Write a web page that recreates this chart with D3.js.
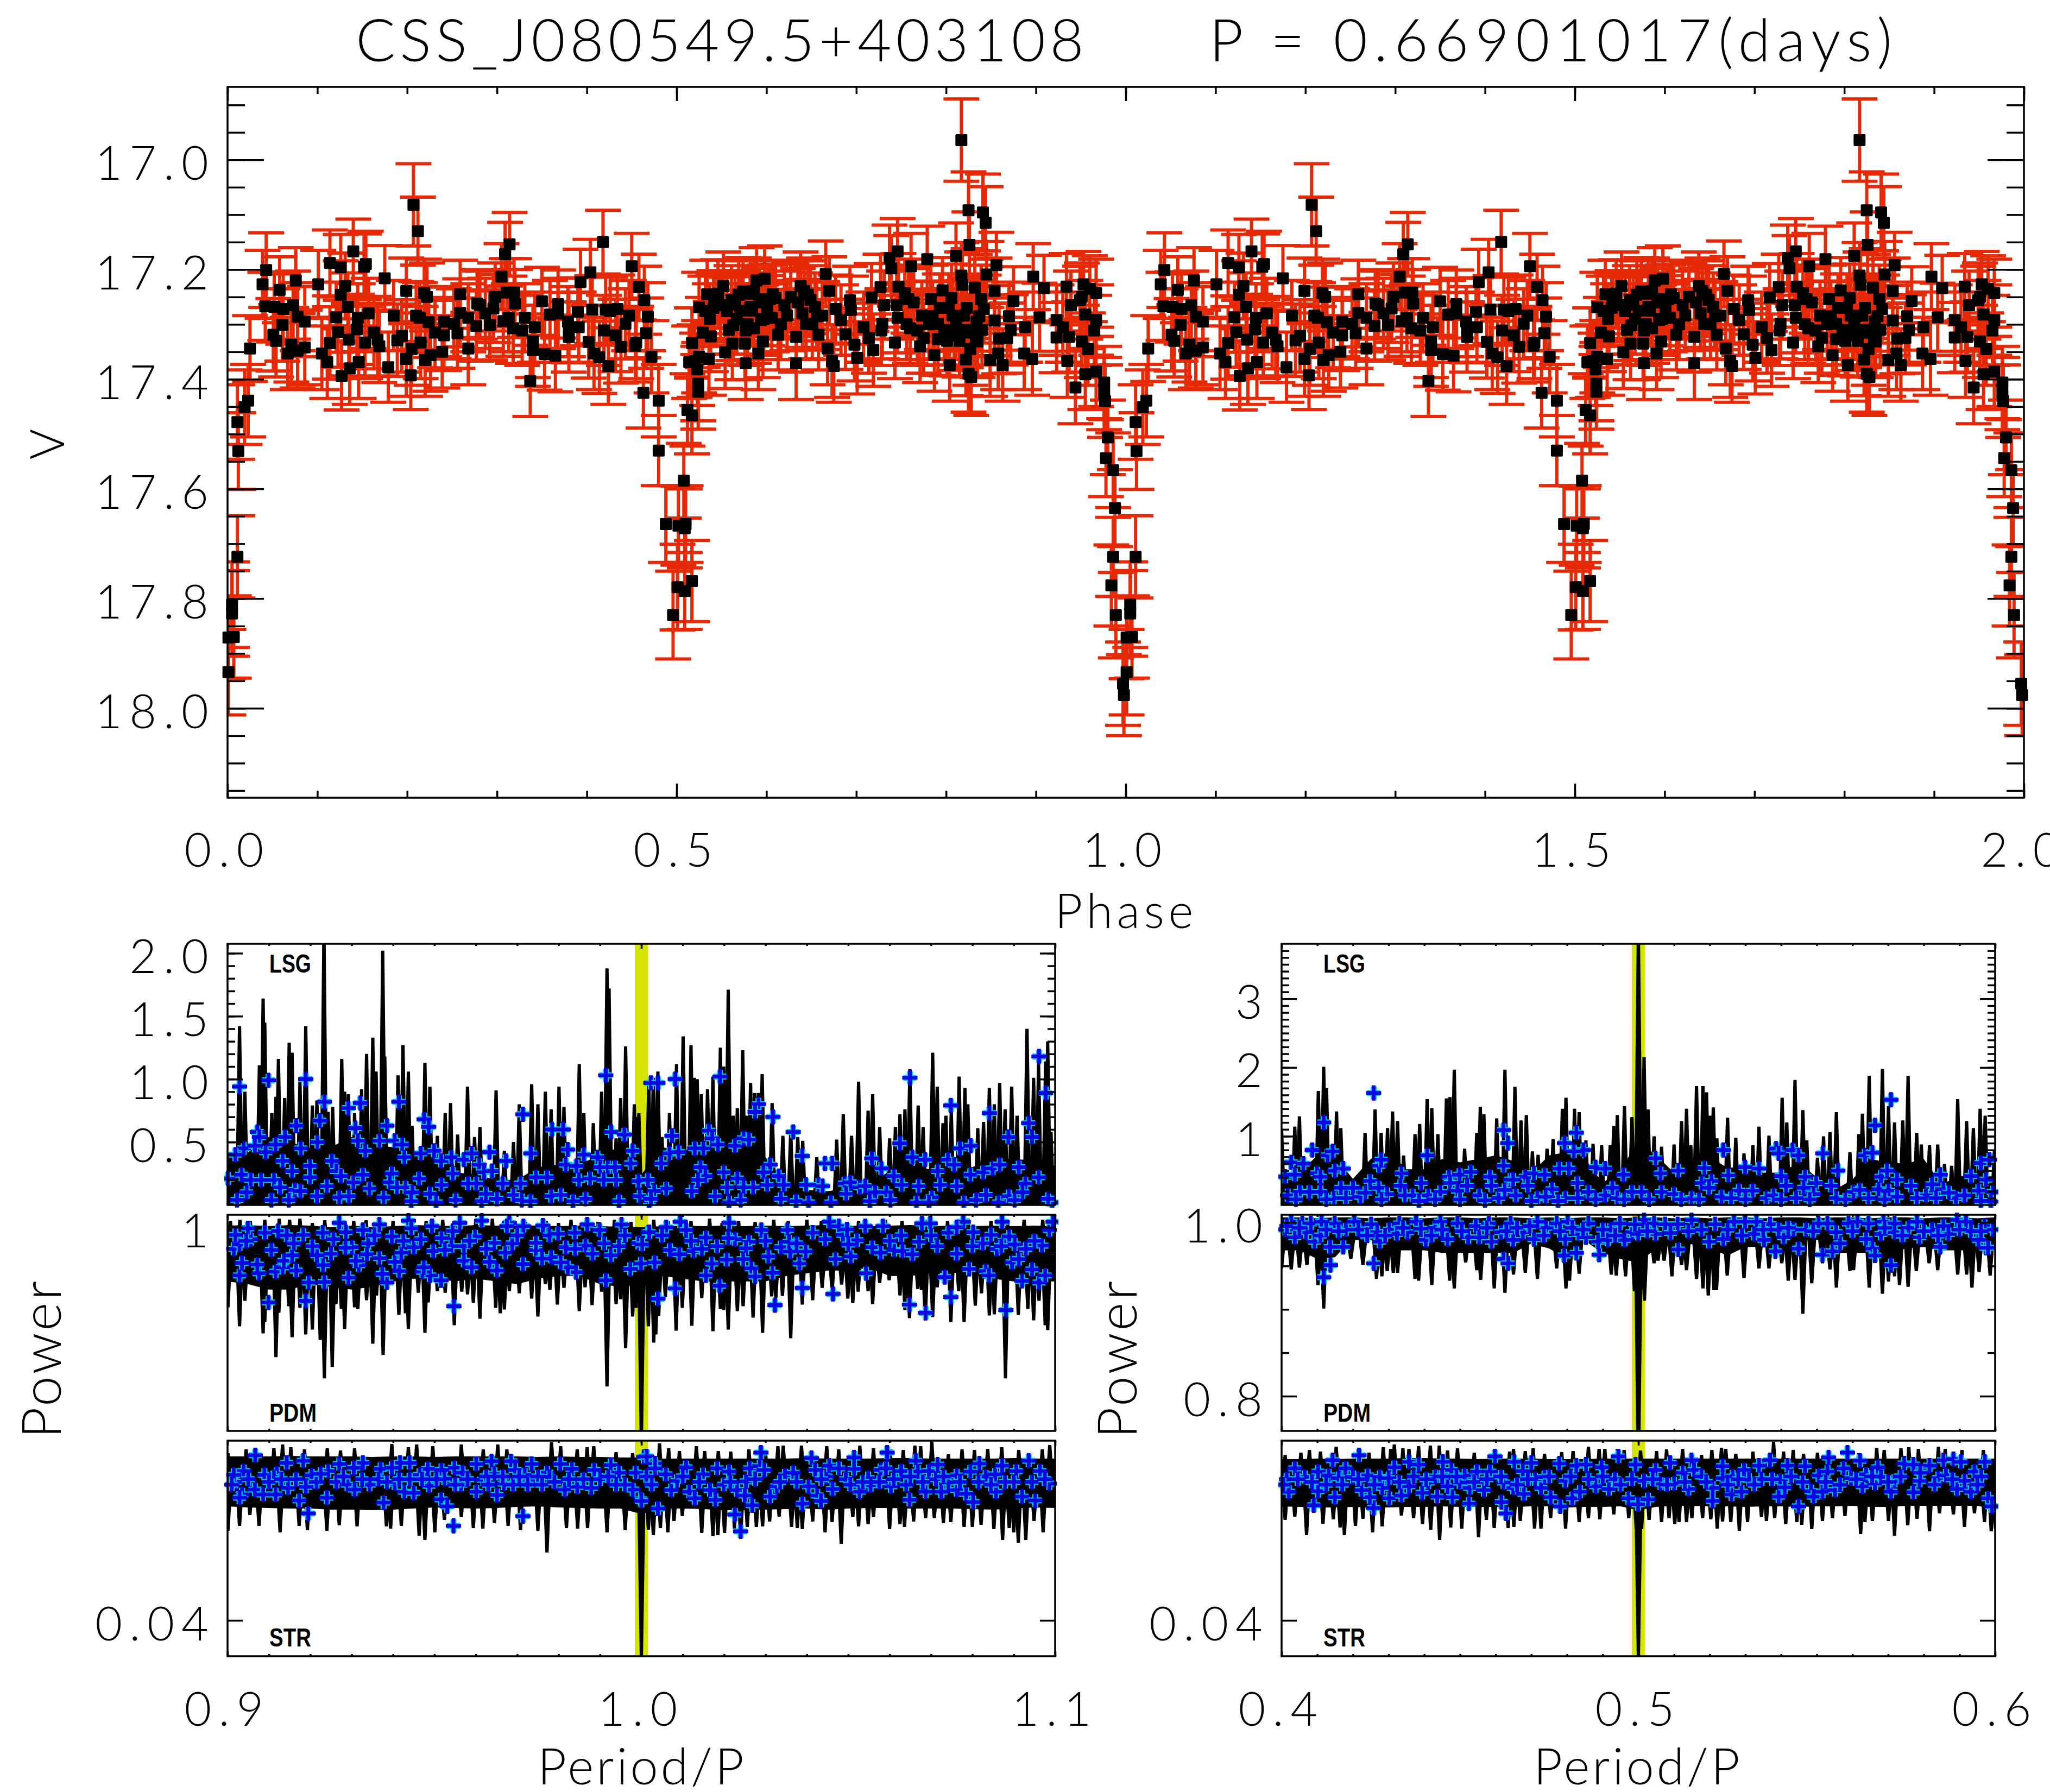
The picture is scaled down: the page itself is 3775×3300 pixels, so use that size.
<!DOCTYPE html>
<html>
<head>
<meta charset="utf-8">
<title>CSS_J080549.5+403108</title>
<script src="https://cdn.jsdelivr.net/npm/d3@7"></script>
<style>
	html, body { margin: 0; padding: 0; background: #fff; overflow: hidden; }
	text { font-family: Lato, "Open Sans", sans-serif; font-weight: 300; fill: #000; }
	.tag { font-family: "Liberation Sans", sans-serif; font-weight: 700; }
	.num { letter-spacing: 13px; }
	.tick line { stroke: #000; stroke-width: 3.5; }
</style>
</head>
<body>
<svg id="chart" width="3775" height="3300"></svg>
<script>
// light curve: phase, V, error
const lightCurve = [
[.001,17.934,.078],[.001,17.871,.075],[.007,17.870,.075],[.005,17.827,.078],[.005,17.811,.078],[.011,17.724,.075],[.012,17.531,.07],[.011,17.478,.068],[.019,17.451,.068],[.023,17.439,.066],
[.025,17.344,.06],[.039,17.227,.062],[.043,17.201,.068],[.042,17.267,.062],[.051,17.319,.066],[.054,17.330,.066],[.058,17.237,.06],[.052,17.268,.064],[.062,17.272,.064],[.061,17.301,.066],
[.067,17.353,.066],[.071,17.337,.068],[.073,17.265,.062],[.076,17.220,.06],[.078,17.286,.062],[.078,17.348,.068],[.086,17.295,.064],[.086,17.342,.068],[.101,17.227,.062],[.105,17.353,.066],
[.111,17.369,.066],[.114,17.188,.06],[.114,17.334,.066],[.121,17.287,.064],[.123,17.314,.064],[.126,17.196,.06],[.126,17.246,.062],[.127,17.394,.062],[.131,17.230,.06],[.134,17.268,.062],
[.135,17.328,.066],[.136,17.380,.066],[.140,17.167,.059],[.144,17.309,.064],[.145,17.288,.062],[.146,17.369,.066],[.152,17.195,.06],[.154,17.190,.06],[.153,17.333,.066],[.157,17.280,.064],
[.163,17.315,.066],[.167,17.328,.066],[.169,17.340,.066],[.175,17.216,.06],[.179,17.378,.064],[.185,17.284,.064],[.189,17.329,.066],[.194,17.321,.066],[.199,17.239,.06],[.199,17.363,.068],
[.204,17.393,.062],[.205,17.345,.066],[.207,17.082,.075],[.210,17.284,.062],[.212,17.130,.062],[.214,17.288,.064],[.215,17.333,.066],[.219,17.243,.062],[.222,17.250,.062],[.220,17.365,.066],
[.224,17.296,.064],[.226,17.356,.066],[.231,17.315,.064],[.239,17.350,.066],[.241,17.295,.064],[.241,17.320,.064],[.252,17.299,.064],[.256,17.316,.064],[.259,17.245,.062],[.259,17.279,.062],
[.268,17.288,.062],[.268,17.344,.066],[.277,17.303,.064],[.278,17.262,.062],[.281,17.265,.062],[.287,17.280,.064],[.292,17.301,.064],[.296,17.271,.062],[.298,17.250,.062],[.305,17.213,.06],
[.307,17.294,.064],[.309,17.172,.058],[.313,17.288,.062],[.314,17.154,.058],[.311,17.242,.062],[.319,17.242,.062],[.320,17.262,.062],[.318,17.307,.064],[.328,17.311,.064],[.331,17.288,.062],
[.337,17.403,.065],[.340,17.331,.066],[.340,17.347,.066],[.342,17.305,.064],[.350,17.258,.062],[.353,17.354,.066],[.359,17.282,.062],[.365,17.357,.066],[.368,17.263,.062],[.368,17.280,.064],
[.379,17.295,.064],[.380,17.323,.064],[.380,17.306,.064],[.390,17.277,.062],[.391,17.305,.064],[.393,17.223,.06],[.402,17.332,.066],[.404,17.205,.06],[.406,17.273,.062],[.408,17.353,.066],
[.414,17.360,.066],[.418,17.150,.058],[.419,17.311,.064],[.421,17.273,.062],[.424,17.376,.07],[.426,17.276,.062],[.432,17.320,.066],[.434,17.272,.062],[.438,17.341,.066],[.443,17.299,.064],
[.447,17.284,.064],[.450,17.194,.06],[.454,17.339,.066],[.455,17.333,.066],[.458,17.232,.06],[.464,17.256,.062],[.463,17.425,.064],[.466,17.316,.064],[.468,17.286,.062],[.472,17.359,.066],
[.480,17.439,.066],[.480,17.530,.064],[.488,17.664,.07],[.496,17.830,.08],[.501,17.779,.078],[.502,17.667,.072],[.509,17.786,.07],[.508,17.585,.068],[.510,17.664,.07],[.509,17.672,.072],
[.512,17.456,.066],[.517,17.466,.07],[.517,17.334,.064],[.517,17.768,.074],[.514,17.369,.066],[.520,17.367,.066],[.523,17.382,.066],[.524,17.408,.068],[.524,17.423,.068],[.525,17.359,.066],
[.525,17.269,.064],[.529,17.315,.064],[.536,17.363,.066],[.538,17.322,.064],[.532,17.276,.064],[.546,17.244,.062],[.542,17.264,.062],[.554,17.351,.066],[.556,17.276,.062],[.563,17.302,.064],
[.562,17.335,.066],[.569,17.246,.062],[.565,17.264,.062],[.577,17.371,.066],[.577,17.311,.064],[.576,17.335,.066],[.582,17.244,.062],[.586,17.239,.06],[.582,17.268,.062],[.586,17.307,.064],
[.591,17.353,.066],[.596,17.331,.066],[.598,17.217,.06],[.594,17.292,.064],[.598,17.254,.062],[.604,17.254,.062],[.606,17.288,.062],[.613,17.319,.064],[.610,17.252,.062],[.623,17.284,.064],
[.633,17.323,.064],[.633,17.371,.066],[.635,17.260,.062],[.642,17.239,.06],[.646,17.246,.062],[.644,17.299,.064],[.654,17.268,.062],[.658,17.319,.064],[.662,17.284,.062],[.666,17.208,.06],
[.668,17.344,.066],[.670,17.239,.062],[.673,17.367,.066],[.675,17.376,.066],[.677,17.272,.062],[.683,17.292,.064],[.688,17.318,.064],[.693,17.256,.062],[.694,17.274,.062],[.698,17.337,.066],
[.701,17.361,.066],[.708,17.305,.064],[.714,17.325,.064],[.717,17.251,.062],[.719,17.347,.066],[.727,17.232,.06],[.728,17.311,.064],[.729,17.299,.064],[.731,17.265,.062],[.737,17.179,.06],
[.739,17.198,.06],[.743,17.333,.066],[.746,17.167,.06],[.747,17.231,.06],[.745,17.265,.062],[.746,17.288,.064],[.754,17.243,.062],[.758,17.254,.062],[.761,17.194,.06],[.760,17.307,.064],
[.768,17.311,.064],[.771,17.340,.066],[.773,17.284,.062],[.779,17.181,.06],[.783,17.254,.062],[.787,17.356,.066],[.791,17.299,.064],[.791,17.327,.066],[.796,17.238,.06],[.804,17.374,.066],
[.806,17.252,.062],[.807,17.284,.062],[.811,17.175,.06],[.817,17.211,.06],[.817,16.964,.075],[.818,17.228,.06],[.820,17.284,.064],[.822,17.315,.064],[.822,17.364,.066],[.825,17.390,.07],
[.828,17.396,.07],[.825,17.092,.07],[.826,17.155,.06],[.832,17.233,.06],[.834,17.295,.064],[.835,17.331,.066],[.839,17.254,.062],[.841,17.096,.07],[.842,17.272,.062],[.844,17.115,.066],
[.845,17.209,.06],[.849,17.365,.066],[.854,17.293,.064],[.854,17.239,.06],[.856,17.192,.06],[.858,17.353,.066],[.859,17.326,.064],[.863,17.374,.066],[.868,17.325,.064],[.870,17.285,.062],
[.872,17.310,.064],[.875,17.257,.062],[.887,17.353,.066],[.888,17.305,.064],[.896,17.363,.066],[.897,17.213,.06],[.904,17.287,.062],[.909,17.234,.06],[.923,17.292,.064],[.923,17.324,.064],
[.930,17.305,.064],[.934,17.231,.06],[.935,17.367,.066],[.937,17.323,.064],[.939,17.265,.062],[.944,17.415,.066],[.949,17.256,.062],[.951,17.250,.062],[.951,17.331,.066],[.953,17.227,.06],
[.955,17.282,.062],[.955,17.391,.064],[.958,17.345,.066],[.960,17.235,.06],[.965,17.311,.064],[.967,17.243,.062],[.967,17.386,.064],[.967,17.292,.064],[.976,17.406,.066],[.976,17.426,.066],
[.977,17.440,.066],[.978,17.544,.07],[.980,17.506,.068],[.984,17.776,.074],[.986,17.566,.068],[.986,17.724,.072],[.988,17.635,.07],[.989,17.830,.078],[.997,17.955,.076],[.998,17.976,.074],
[.534,17.245,.062],[.537,17.290,.064],[.541,17.270,.062],[.549,17.265,.062],[.552,17.230,.062],[.558,17.310,.064],[.561,17.255,.062],[.567,17.290,.064],[.571,17.275,.064],[.574,17.240,.062],
[.579,17.300,.064],[.584,17.275,.062],[.589,17.220,.06],[.592,17.260,.062],[.597,17.290,.064],[.601,17.275,.064],[.607,17.245,.062],[.616,17.300,.064],[.620,17.265,.062],[.627,17.250,.062],
[.638,17.230,.062],[.640,17.280,.062],[.649,17.255,.062],[.651,17.300,.064],[.656,17.285,.062],[.756,17.300,.064],[.764,17.260,.062],[.775,17.325,.064],[.781,17.300,.064],[.785,17.285,.064],
[.793,17.270,.062],[.798,17.310,.064],[.801,17.330,.064],[.803,17.270,.062],[.809,17.320,.064],[.811,17.300,.064],[.813,17.285,.064],[.815,17.330,.066],[.819,17.310,.064],[.823,17.270,.062],
[.827,17.345,.066],[.829,17.310,.064],[.833,17.330,.064],[.837,17.285,.064],[.840,17.310,.064]
];
const phaseTicks = [0, 0.5, 1, 1.5, 2];
const magTicks = [17, 17.2, 17.4, 17.6, 17.8, 18];

// LSG, left window
const lsgLeftSpikes = [
[.9029,1.42],[.9042,.90],[.9077,1.11],[.9086,1.64],[.9090,1.45],[.9107,.73],[.9117,.86],[.9123,1.16],[.9138,.85],[.9149,1.29],[.9156,1.21],[.9175,.98],[.9189,1.42],[.9205,.79],[.9216,.83],[.9233,2.2],[.9243,.74],[.9254,.78],[.9276,1.16],[.9283,.90],[.9292,.88],[.9307,.73],[.9324,.92],[.9336,1.20],[.9351,1.33],[.9359,1.06],[.9375,2.02],[.9380,1.18],[.9412,1.03],[.9424,1.27],[.9437,1.06],[.9446,.63],[.9477,1.13],[.9489,.94],[.9507,.55],[.9526,.73],[.9539,.81],[.9556,.56],[.9580,.94],[.9597,.54],[.9610,.62],[.9649,.91],[.9669,.43],[.9691,.50],[.9705,.80],[.9735,.96],[.9750,.80],[.9768,.90],[.9782,.76],[.9801,.94],[.9813,.78],[.9850,1.12],[.9861,.73],[.9884,.65],[.9904,.90],[.9917,1.88],[.9922,1.72],[.9939,.53],[.9950,.85],[.9962,1.26],[.9983,.80],[.9991,.70],[.9994,.73],
[1.0018,.97],[1.0029,1.01],[1.0040,1.06],[1.0050,.54],[1.0068,.73],[1.0085,1.12],[1.0101,1.34],[1.0120,1.27],[1.0128,1.01],[1.0135,1.00],[1.0145,.88],[1.0160,.92],[1.0173,1.02],[1.0191,1.25],[1.0199,1.10],[1.0210,1.71],[1.0222,.71],[1.0232,.77],[1.0245,1.23],[1.0254,.71],[1.0264,.97],[1.0274,.89],[1.0283,.89],[1.0292,1.04],[1.0316,.81],[1.0342,.55],[1.0361,.58],[1.0378,.54],[1.0390,.51],[1.0424,.38],[1.0472,.52],[1.0488,.72],[1.0508,.55],[1.0525,.98],[1.0548,.75],[1.0559,.88],[1.0576,.62],[1.0600,.53],[1.0614,.62],[1.0625,.72],[1.0637,.76],[1.0649,1.08],[1.0669,.79],[1.0681,.62],[1.0704,1.21],[1.0715,.94],[1.0729,.65],[1.0736,.71],[1.0749,.74],[1.0768,1.02],[1.0782,.93],[1.0789,.80],[1.0813,.61],[1.0827,.66],[1.0841,.93],[1.0853,.80],[1.0866,.97],[1.0879,.76],[1.0895,.94],[1.0908,.71],[1.0932,1.40],[1.0948,1.01],[1.0960,1.12],[1.0977,1.14],[1.0982,1.30],[1.0990,.58]
];
const leftGrid = [.90,.905,.91,.915,.92,.925,.93,.935,.94,.945,.95,.955,.96,.965,.97,.975,.98,.985,.99,.995,1.0,1.005,1.01,1.015,1.02,1.025,1.03,1.035,1.04,1.045,1.05,1.055,1.06,1.065,1.07,1.075,1.08,1.085,1.09,1.095,1.10];
const lsgLeftMass = [.38,.42,.54,.50,.45,.46,.54,.47,.46,.42,.40,.26,.24,.20,.20,.30,.32,.32,.40,.46,.24,.46,.42,.50,.46,.42,.38,.18,.12,.11,.13,.20,.26,.32,.28,.30,.30,.38,.36,.36,.31];
const lsgLeftCross = [
[.9029,.94],[.9099,.99],[.9189,1.00],[.9234,.82],[.9292,.77],[.9321,.81],[.9414,.82],[.9714,.72],[.9914,1.03],[.9223,.67],[.9166,.63],[.9072,.58],[.9077,.54],[.9139,.54],[.9309,.61],[.9385,.63],[.9475,.68],[.9486,.62],[.9784,.60],[.9811,.60],[.9927,.58],[.9959,.56],[1.0023,.97],
[.9039,.45],[.9019,.40],[.9066,.47],[.9092,.42],[.9116,.48],[.9133,.35],[.9177,.45],[.9217,.50],[.9252,.35],[.9263,.27],[.9274,.23],[.9156,.27],[.9199,.31],[.9199,.22],[.9315,.51],[.9333,.43],[.9367,.51],[.9404,.51],[.9422,.48],[.9427,.38],[.9467,.41],[.9499,.43],[.9516,.35],[.9541,.38],[.9571,.36],[.9590,.41],[.9608,.32],[.9633,.42],[.9620,.26],[.9639,.27],[.9673,.35],[.9733,.41],[.9822,.44],[.9861,.40],[.9894,.38],[.9817,.32],[.9843,.31],[.9901,.30],[.9919,.30],[.9936,.30],[.9974,.33],[.9979,.43],
[.9001,.21],[.9034,.24],[.9056,.20],[.9081,.20],[.9112,.20],[.9127,.14],[.9046,.10],[.9023,.04],[.9106,.04],[.9148,.04],[.9163,.12],[.9176,.11],[.9216,.07],[.9240,.15],[.9270,.06],[.9293,.07],[.9304,.18],[.9327,.24],[.9343,.13],[.9397,.25],[.9392,.18],[.9377,.06],[.9409,.14],[.9430,.14],[.9447,.10],[.9444,.03],[.9463,.21],[.9489,.09],[.9517,.16],[.9504,.02],[.9544,.25],[.9551,.04],[.9581,.17],[.9601,.17],[.9614,.03],[.9624,.09],[.9651,.05],[.9665,.17],[.9691,.08],[.9708,.17],[.9711,.04],[.9732,.03],[.9745,.22],[.9772,.22],[.9782,.07],[.9805,.08],[.9849,.20],[.9876,.21],[.9909,.20],[.9939,.20],[.9865,.05],[.9835,.03],[.9946,.03],[.9993,.19],[.9996,.07],[1.0019,.03],
[1.0040,.97],[1.0082,1.00],[1.0190,1.02],[1.0649,1.01],[1.0961,1.18],[1.0977,.89],[1.0748,.79],[1.0283,.80],[1.0275,.74],[1.0318,.70],[1.0367,.58],[1.0841,.73],[1.0936,.65],[1.0944,.54],[1.0074,.55],[1.0163,.59],[1.0171,.53],[1.0185,.48],[1.0226,.47],[1.0247,.53],[1.0260,.52],[1.0129,.45],[1.0150,.45],[1.0068,.41],[1.0090,.42],[1.0389,.39],[1.0444,.33],[1.0461,.33],[1.0048,.33],[1.0625,.49],[1.0655,.38],[1.0686,.36],[1.0741,.36],[1.0756,.32],[1.0770,.45],[1.0796,.47],[1.0795,.24],[1.0826,.26],[1.0849,.29],[1.0866,.32],[1.0887,.54],[1.0912,.30],[1.0557,.37],[1.0580,.29],[1.0311,.32],[1.0199,.26],[1.0143,.30],[1.0155,.23],[1.0295,.26],[1.0332,.23],[1.0232,.21],
[1.0016,.20],[1.0060,.13],[1.0031,.11],[1.0023,.05],[1.0122,.11],[1.0137,.20],[1.0178,.07],[1.0207,.14],[1.0247,.14],[1.0270,.14],[1.0240,.04],[1.0212,.02],[1.0304,.16],[1.0344,.16],[1.0337,.05],[1.0374,.03],[1.0398,.16],[1.0428,.16],[1.0438,.15],[1.0404,.02],[1.0458,.02],[1.0491,.17],[1.0505,.18],[1.0495,.09],[1.0528,.14],[1.0541,.15],[1.0565,.10],[1.0592,.10],[1.0552,.03],[1.0610,.23],[1.0629,.16],[1.0602,.04],[1.0670,.15],[1.0665,.02],[1.0702,.06],[1.0716,.27],[1.0722,.16],[1.0695,.02],[1.0762,.15],[1.0779,.02],[1.0809,.04],[1.0833,.08],[1.0863,.02],[1.0888,.07],[1.0902,.04],[1.0928,.17],[1.0921,.10],[1.0960,.22],[1.0993,.02],[1.0983,.05]
];

// PDM, left window
const pdmLeftSpikes = [
[.9001,.852],[.9029,.817],[.9042,.864],[.9086,.804],[.9090,.825],[.9117,.760],[.9124,.842],[.9156,.797],[.9148,.854],[.9175,.851],[.9189,.802],[.9205,.811],[.9224,.792],[.9234,.721],[.9253,.742],[.9262,.858],[.9283,.812],[.9275,.849],[.9315,.849],[.9307,.852],[.9336,.865],[.9351,.785],[.9376,.764],[.9360,.874],[.9414,.838],[.9430,.841],[.9437,.812],[.9461,.879],[.9477,.805],[.9485,.861],[.9507,.882],[.9526,.879],[.9548,.819],[.9566,.881],[.9580,.876],[.9594,.860],[.9610,.831],[.9648,.851],[.9659,.841],[.9669,.848],[.9681,.882],[.9705,.878],[.9735,.868],[.9750,.835],[.9768,.895],[.9779,.884],[.9797,.857],[.9813,.888],[.9850,.845],[.9864,.889],[.9881,.856],[.9904,.881],[.9917,.706],[.9939,.858],[.9950,.867],[.9962,.777],[.9979,.835],[.9987,.851],[1.0,.60],
[1.0017,.817],[1.0030,.787],[1.0035,.802],[1.0042,.836],[1.0058,.871],[1.0084,.809],[1.0099,.851],[1.0122,.818],[1.0146,.869],[1.0173,.808],[1.0191,.849],[1.0199,.847],[1.0210,.811],[1.0232,.845],[1.0246,.854],[1.0270,.833],[1.0293,.805],[1.0315,.872],[1.0325,.869],[1.0341,.873],[1.0361,.795],[1.0389,.857],[1.0414,.865],[1.0437,.888],[1.0461,.881],[1.0484,.894],[1.0499,.868],[1.0511,.860],[1.0524,.881],[1.0548,.882],[1.0559,.858],[1.0576,.897],[1.0599,.902],[1.0625,.874],[1.0637,.847],[1.0648,.832],[1.0668,.886],[1.0677,.884],[1.0686,.828],[1.0704,.834],[1.0715,.889],[1.0748,.825],[1.0767,.882],[1.0780,.825],[1.0807,.855],[1.0822,.878],[1.0841,.837],[1.0853,.839],[1.0880,.721],[1.0911,.838],[1.0934,.849],[1.0948,.828],[1.0961,.864],[1.0976,.819],[1.0982,.810]
];
const pdmLeftTips = [
[.9007,1.012],[.9030,1.014],[.9055,1.012],[.9090,1.014],[.9125,1.016],[.9150,1.014],[.9175,1.016],[.9205,1.008],[.9235,1.013],[.9270,1.008],[.9305,1.012],[.9335,1.013],[.9365,1.006],[.9400,1.012],[.9435,1.014],[.9480,1.012],[.9520,1.014],[.9560,1.012],[.9600,1.014],[.9640,1.016],[.9680,1.012],[.9720,1.010],[.9770,1.012],[.9800,1.008],[.9830,1.014],[.9865,1.012],[.9895,1.010],[.9935,1.014],[.9975,1.010],
[1.0030,1.014],[1.0065,1.012],[1.0120,1.012],[1.0165,1.016],[1.0195,1.008],[1.0235,1.012],[1.0275,1.010],[1.0320,1.014],[1.0355,1.012],[1.0400,1.014],[1.0435,1.012],[1.0480,1.014],[1.0525,1.012],[1.0590,1.014],[1.0630,1.012],[1.0690,1.014],[1.0740,1.012],[1.0790,1.016],[1.0845,1.012],[1.0885,1.008],[1.0925,1.014],[1.0970,1.014]
];
const pdmLeftLow = [.90,.895,.885,.885,.895,.89,.885,.89,.90,.905,.905,.90,.905,.90,.895,.905,.91,.91,.895,.89,.895,.91,.905,.90,.90,.90,.90,.91,.915,.92,.92,.925,.91,.91,.915,.915,.92,.905,.90,.90,.90];
const pdmLeftTop = [1.003,1.004,1.002,1.004,1.003,1.000,1.003,1.000,1.002,1.004,1.003,1.002,1.004,1.003,1.004,1.003,1.002,1.003,1.002,1.001,1.000,1.002,1.003,1.002,1.003,1.002,1.003,1.002,1.003,1.004,1.003,1.002,1.003,1.004,1.002,1.003,1.002,1.003,1.002,1.003,1.002];
const pdmLeftCross = [
[.9029,.911],[.9099,.861],[.9189,.864],[.9234,.899],[.9292,.907],[.9196,.898],[.9385,.898],[.9374,.914],[.9415,.919],[.9547,.854],[.9489,.911],[.9471,.918],[.9474,.926],[.9516,.902],[.9571,.938],[.9590,.926],[.9633,.936],[.9651,.920],[.9714,.932],[.9914,.902],[.9842,.917],[.9822,.926],[.9973,.923],[.9999,.933],
[.9317,.930],[.9310,.938],[.9166,.920],[.9116,.918],[.9133,.926],[.9076,.915],[.9035,.934],[.9072,.931],[.9231,.930],[.9216,.948],[.9250,.951],[.9136,.938],[.9156,.948],[.9106,.958],[.9015,.960],[.9029,.968],[.9056,.978],[.9019,.986],[.9049,.998],[.9122,.993],[.9143,.985],[.9183,.986],[.9230,.990],[.9270,1.008],[.9286,.991],[.9256,.978],[.9300,.963],[.9327,.995],[.9340,.970],[.9367,1.005],[.9337,.950],[.9367,.943],[.9397,.983],[.9404,.936],[.9420,.953],[.9437,1.012],[.9444,.998],[.9450,.963],[.9467,.978],[.9497,.956],[.9494,1.002],[.9517,.980],[.9544,.993],[.9561,1.008],[.9614,1.012],[.9541,.965],[.9571,.965],[.9598,.983],[.9645,.971],[.9671,.953],[.9681,1.008],[.9675,1.002],[.9688,.970],[.9715,1.002],[.9745,.958],[.9762,1.003],[.9745,.971],[.9778,.985],[.9799,.988],[.9817,.963],[.9782,.945],[.9839,.990],[.9869,1.005],[.9865,.966],[.9882,.951],[.9899,.995],[.9926,.948],[.9946,.965],[.9952,1.005],[.9993,.971],[1.0016,.990],[.9805,.935],
[1.0040,.868],[1.0082,.887],[1.0094,1.010],[1.0108,.995],[1.0060,1.000],[1.0019,.991],[1.0002,.968],[1.0032,.935],[1.0069,.958],[1.0092,.950],[1.0126,.956],[1.0146,.960],[1.0156,.981],[1.0183,.965],[1.0212,1.008],[1.0206,.940],[1.0170,.933],[1.0156,.911],[1.0189,.892],[1.0226,.978],[1.0260,.973],[1.0253,.961],[1.0246,.941],[1.0266,.924],[1.0275,.909],[1.0290,.995],[1.0307,.946],[1.0317,.916],[1.0323,.856],[1.0337,.963],[1.0353,.995],[1.0360,.955],[1.0357,.973],[1.0382,.933],[1.0389,.888],[1.0397,.955],[1.0414,.990],[1.0444,.978],[1.0454,1.010],[1.0469,.941],[1.0463,.877],[1.0477,1.002],[1.0487,.986],[1.0506,.946],[1.0521,.976],[1.0497,.996],[1.0543,.915],[1.0558,.963],[1.0541,1.002],[1.0578,.953],[1.0584,1.002],[1.0611,.958],[1.0628,.985],[1.0631,.956],[1.0655,.950],[1.0671,.973],[1.0678,1.007],[1.0698,1.007],[1.0648,.857],[1.0687,.842],[1.0715,.965],[1.0733,.908],[1.0742,.990],[1.0762,.951],[1.0748,.871],[1.0778,1.010],[1.0762,1.000],[1.0792,.923],[1.0802,.991],[1.0825,.970],[1.0845,.986],[1.0859,.960],[1.0876,.975],[1.0872,1.010],[1.0881,.847],[1.0889,.983],[1.0832,.919],[1.0840,.911],[1.0902,.968],[1.0896,.935],[1.0912,.941],[1.0929,.960],[1.0944,.922],[1.0920,.901],[1.0961,.898],[1.0968,.966],[1.0976,.911],[1.0986,.995],[1.0995,1.010],
[.9045,.975],[.9090,.990],[.9160,.970],[.9205,.965],[.9285,.962],[.9355,.985],[.9425,.975],[.9525,.958],[.9585,.975],[.9625,.960],[.9700,.985],[.9760,.942],[.9840,.960],[.9910,.970],[.9960,.985],[1.0050,.985],[1.0120,.975],[1.0210,.980],[1.0300,.975],[1.0375,.970],[1.0500,.968],[1.0600,.975],[1.0700,.985],[1.0800,.965],[1.0870,.965],[1.0950,.975]
];

// STR, left window
const strLeftLowTips = [
[.9001,.0565],[.9029,.0574],[.9054,.0594],[.9076,.0574],[.9127,.0562],[.9173,.0574],[.9193,.0566],[.9240,.0565],[.9270,.0575],[.9313,.0573],[.9384,.0573],[.9394,.0569],[.9420,.0574],[.9463,.0556],[.9477,.0548],[.9501,.0562],[.9524,.0585],[.9565,.0590],[.9594,.0570],[.9617,.0569],[.9645,.0579],[.9678,.0574],[.9708,.0566],[.9750,.0565],[.9772,.0525],[.9819,.0570],[.9846,.0569],[.9870,.0570],[.9917,.0562],[.9961,.0566],[1.0,.0330],
[1.0017,.0567],[1.0029,.0557],[1.0046,.0570],[1.0064,.0562],[1.0079,.0583],[1.0099,.0592],[1.0146,.0561],[1.0173,.0555],[1.0185,.0557],[1.0201,.0561],[1.0225,.0569],[1.0240,.0551],[1.0256,.0572],[1.0278,.0572],[1.0293,.0573],[1.0310,.0582],[1.0333,.0591],[1.0363,.0572],[1.0377,.0570],[1.0389,.0568],[1.0414,.0582],[1.0444,.0562],[1.0461,.0581],[1.0483,.0541],[1.0511,.0590],[1.0525,.0573],[1.0548,.0577],[1.0561,.0590],[1.0600,.0568],[1.0625,.0577],[1.0636,.0572],[1.0658,.0582],[1.0687,.0588],[1.0708,.0588],[1.0730,.0579],[1.0748,.0581],[1.0780,.0572],[1.0800,.0572],[1.0821,.0576],[1.0852,.0568],[1.0873,.0548],[1.0889,.0570],[1.0900,.0562],[1.0911,.0543],[1.0929,.0548],[1.0949,.0583],[1.0971,.0562]
];
const strLeftHighTips = [
[.9001,.0708],[.9045,.0715],[.9112,.0717],[.9133,.0724],[.9153,.0719],[.9186,.0715],[.9241,.0717],[.9273,.0713],[.9307,.0717],[.9397,.0725],[.9437,.0719],[.9457,.0724],[.9496,.0721],[.9565,.0724],[.9618,.0715],[.9653,.0724],[.9675,.0715],[.9783,.0728],[.9805,.0721],[.9845,.0715],[.9869,.0719],[.9885,.0721],[.9939,.0710],[.9979,.0708],
[1.0044,.0726],[1.0066,.0717],[1.0092,.0712],[1.0133,.0721],[1.0153,.0712],[1.0186,.0712],[1.0216,.0711],[1.0260,.0715],[1.0300,.0711],[1.0330,.0721],[1.0343,.0722],[1.0387,.0722],[1.0448,.0721],[1.0477,.0715],[1.0528,.0722],[1.0561,.0717],[1.0601,.0715],[1.0633,.0714],[1.0661,.0722],[1.0675,.0721],[1.0702,.0729],[1.0742,.0706],[1.0775,.0715],[1.0805,.0714],[1.0837,.0716],[1.0871,.0719],[1.0912,.0714],[1.0936,.0707],[1.0969,.0715],[1.0987,.0723]
];
const strLeftLow = [.0610,.0608,.0607,.0606,.0606,.0604,.0604,.0603,.0604,.0606,.0608,.0607,.0606,.0607,.0609,.0610,.0608,.0607,.0606,.0606,.0596,.0606,.0606,.0605,.0603,.0603,.0604,.0605,.0606,.0604,.0606,.0607,.0607,.0606,.0606,.0606,.0605,.0604,.0606,.0608,.0607];
const strLeftHigh = [.0702,.0702,.0702,.0703,.0702,.0702,.0702,.0701,.0702,.0702,.0701,.0702,.0702,.0702,.0702,.0701,.0702,.0701,.0701,.0700,.0700,.0698,.0698,.0698,.0698,.0698,.0698,.0698,.0699,.0698,.0698,.0698,.0699,.0699,.0698,.0698,.0698,.0698,.0699,.0698,.0698];
const strLeftCross = [
[.9067,.0704],[.9143,.0690],[.9183,.0694],[.9270,.0688],[.9327,.0690],[.9305,.0681],[.9417,.0690],[.9440,.0690],[.9548,.0681],[.9601,.0688],[.9638,.0693],[.9685,.0693],[.9735,.0688],[.9804,.0688],[.9926,.0686],[1.0006,.0701],[.9039,.0675],[.9089,.0668],[.9119,.0670],[.9203,.0667],[.9243,.0675],[.9370,.0679],[.9397,.0681],[.9484,.0679],[.9517,.0677],[.9568,.0672],[.9645,.0670],[.9695,.0677],[.9772,.0672],[.9832,.0679],[.9886,.0677],[.9946,.0672],[.9986,.0672],[.9019,.0655],[.9035,.0632],[.9029,.0626],[.9066,.0641],[.9086,.0632],[.9116,.0632],[.9146,.0644],[.9173,.0621],[.9189,.0646],[.9240,.0626],[.9263,.0655],[.9290,.0650],[.9307,.0641],[.9343,.0650],[.9377,.0617],[.9404,.0652],[.9427,.0637],[.9450,.0635],[.9487,.0648],[.9516,.0623],[.9531,.0610],[.9524,.0661],[.9564,.0650],[.9601,.0637],[.9651,.0631],[.9668,.0652],[.9742,.0659],[.9815,.0641],[.9845,.0646],[.9879,.0644],[.9939,.0650],[.9979,.0641],[.9999,.0623],[.9195,.0597],[.9546,.0574],[.9714,.0592],[.9015,.0668],[.9112,.0664],[.9778,.0664],[.9718,.0668],[.9618,.0659],[.9464,.0668],
[1.0013,.0702],[1.0033,.0689],[1.0040,.0606],[1.0000,.0620],[1.0012,.0665],[1.0033,.0680],[1.0059,.0669],[1.0072,.0640],[1.0108,.0682],[1.0086,.0657],[1.0116,.0637],[1.0129,.0625],[1.0149,.0669],[1.0166,.0640],[1.0183,.0680],[1.0179,.0622],[1.0212,.0674],[1.0199,.0650],[1.0226,.0595],[1.0231,.0640],[1.0240,.0564],[1.0250,.0630],[1.0253,.0656],[1.0268,.0612],[1.0262,.0680],[1.0286,.0684],[1.0289,.0709],[1.0297,.0677],[1.0311,.0628],[1.0327,.0647],[1.0347,.0667],[1.0367,.0672],[1.0389,.0615],[1.0404,.0647],[1.0411,.0699],[1.0420,.0677],[1.0425,.0630],[1.0434,.0620],[1.0447,.0665],[1.0462,.0642],[1.0454,.0685],[1.0477,.0680],[1.0494,.0660],[1.0514,.0700],[1.0514,.0679],[1.0527,.0637],[1.0548,.0662],[1.0554,.0649],[1.0578,.0677],[1.0594,.0709],[1.0591,.0680],[1.0603,.0647],[1.0628,.0675],[1.0648,.0622],[1.0640,.0650],[1.0663,.0694],[1.0668,.0674],[1.0687,.0637],[1.0695,.0675],[1.0716,.0687],[1.0712,.0660],[1.0725,.0637],[1.0742,.0654],[1.0762,.0667],[1.0762,.0640],[1.0785,.0633],[1.0795,.0674],[1.0802,.0618],[1.0817,.0689],[1.0832,.0665],[1.0855,.0669],[1.0857,.0637],[1.0872,.0685],[1.0879,.0655],[1.0906,.0675],[1.0920,.0628],[1.0936,.0694],[1.0944,.0655],[1.0952,.0621],[1.0963,.0675],[1.0986,.0652],
[.9010,.0650],[.9050,.0660],[.9100,.0655],[.9130,.0660],[.9165,.0660],[.9215,.0655],[.9225,.0670],[.9280,.0665],[.9325,.0660],[.9365,.0660],[.9385,.0655],[.9415,.0660],[.9440,.0660],[.9470,.0660],[.9505,.0660],[.9550,.0650],[.9580,.0660],[.9625,.0665],[.9630,.0650],[.9665,.0665],[.9690,.0650],[.9705,.0665],[.9725,.0650],[.9750,.0665],[.9760,.0650],[.9790,.0655],[.9825,.0660],[.9860,.0660],[.9900,.0660],[.9920,.0665],[.9960,.0650],
[1.0025,.0650],[1.0100,.0665],[1.0140,.0655],[1.0215,.0655],[1.0275,.0660],[1.0335,.0655],[1.0375,.0655],[1.0435,.0660],[1.0505,.0650],[1.0535,.0655],[1.0575,.0655],[1.0610,.0660],[1.0650,.0665],[1.0680,.0655],[1.0730,.0665],[1.0770,.0655],[1.0815,.0655],[1.0845,.0650],[1.0900,.0655],[1.0975,.0660]
];

// LSG, right window
const lsgRightSpikes = [
[.4000,1.10],[.4037,1.14],[.4050,1.29],[.4103,1.66],[.4118,2.01],[.4126,1.70],[.4154,1.36],[.4166,1.12],[.4234,1.05],[.4262,1.39],[.4279,1.05],[.4297,1.12],[.4311,1.36],[.4325,1.22],[.4342,.72],[.4374,1.03],[.4387,1.18],[.4408,1.54],[.4421,1.41],[.4438,1.03],[.4462,1.55],[.4472,1.57],[.4484,1.97],[.4513,.82],[.4547,1.05],[.4557,1.43],[.4567,1.32],[.4603,1.26],[.4626,1.97],[.4654,1.72],[.4671,1.23],[.4686,1.31],[.4703,.78],[.4719,.73],[.4744,.82],[.4761,.96],[.4787,1.40],[.4797,1.56],[.4821,1.40],[.4834,1.35],[.4853,.94],[.4873,.89],[.4897,.87],[.4921,.87],[.4931,1.15],[.4941,1.31],[.4961,1.44],[.4982,1.28],[.5000,4.0],
[.5009,1.55],[.5016,2.15],[.5027,1.39],[.5044,1.00],[.5065,.85],[.5100,.88],[.5121,1.22],[.5135,1.40],[.5147,.87],[.5163,1.73],[.5181,1.73],[.5191,1.64],[.5201,1.30],[.5210,1.42],[.5220,.97],[.5250,1.27],[.5273,.98],[.5296,.75],[.5321,.87],[.5338,1.14],[.5366,1.01],[.5403,1.56],[.5416,1.20],[.5439,1.82],[.5461,1.38],[.5472,.94],[.5502,.69],[.5519,1.00],[.5537,1.06],[.5555,1.35],[.5593,.77],[.5618,1.03],[.5628,1.33],[.5647,1.88],[.5684,1.98],[.5701,1.44],[.5718,1.20],[.5741,1.23],[.5756,1.88],[.5780,1.05],[.5793,.88],[.5816,.87],[.5839,.88],[.5858,.60],[.5878,.57],[.5895,1.54],[.5920,1.22],[.5939,1.12],[.5958,1.40],[.5972,1.30],[.5998,.80]
];
const rightGrid = [.40,.405,.41,.415,.42,.425,.43,.435,.44,.445,.45,.455,.46,.465,.47,.475,.48,.485,.49,.495,.50,.505,.51,.515,.52,.525,.53,.535,.54,.545,.55,.555,.56,.565,.57,.575,.58,.585,.59,.595,.60];
const lsgRightMass = [.42,.47,.72,.70,.38,.67,.77,.52,.52,.67,.62,.67,.72,.64,.47,.72,.77,.67,.32,.52,.92,.72,.47,.52,.70,.54,.56,.47,.47,.62,.40,.22,.37,.67,.62,.60,.67,.30,.42,.42,.42];
const lsgRightCross = [
[.4027,.62],[.4061,.60],[.4086,.80],[.4118,1.20],[.4129,.72],[.4143,.78],[.4099,.46],[.4149,.50],[.4173,.53],[.4258,1.63],[.4273,.57],[.4279,.66],[.4336,.46],[.4408,.72],[.4469,.41],[.4499,.44],[.4530,.48],[.4584,.41],[.4622,.57],[.4622,1.09],[.4634,.90],[.4642,.37],[.4683,.41],[.4707,.46],[.4737,.44],[.4778,.53],[.4805,.53],[.4793,.90],[.4826,1.05],[.4846,.80],[.4819,.78],[.4880,.55],[.4907,.53],[.4829,.32],[.4958,.44],[.4010,.41],[.4037,.44],[.4017,.14],[.4051,.19],[.4078,.19],[.4109,.41],[.4109,.19],[.4146,.10],[.4166,.25],[.4200,.25],[.4221,.12],[.4248,.35],[.4272,.25],[.4296,.16],[.4333,.28],[.4367,.14],[.4391,.32],[.4411,.14],[.4445,.19],[.4472,.32],[.4493,.21],[.4520,.28],[.4554,.14],[.4588,.28],[.4608,.10],[.4649,.37],[.4656,.14],[.4690,.28],[.4717,.10],[.4758,.23],[.4795,.10],[.4860,.19],[.4907,.14],[.4927,.25],[.4941,.10],[.4982,.19],
[.5048,.68],[.5062,.46],[.5112,.50],[.5185,.54],[.5238,.80],[.5252,.43],[.5299,.55],[.5338,.53],[.5386,.82],[.5393,.75],[.5432,.80],[.5449,.72],[.5400,.42],[.5467,.41],[.5517,.75],[.5559,.50],[.5635,.72],[.5656,.76],[.5663,1.16],[.5708,1.53],[.5680,.41],[.5697,.50],[.5725,.37],[.5846,.44],[.5932,.42],[.5960,.61],[.5984,.66],[.5974,.37],[.5177,.32],[.5205,.35],[.5009,.19],[.5065,.19],[.5100,.16],[.5149,.10],[.5198,.25],[.5233,.12],[.5282,.21],[.5320,.21],[.5359,.10],[.5379,.14],[.5414,.28],[.5442,.10],[.5463,.25],[.5498,.32],[.5491,.16],[.5540,.28],[.5554,.10],[.5603,.19],[.5645,.10],[.5673,.23],[.5701,.21],[.5725,.12],[.5764,.28],[.5806,.14],[.5823,.30],[.5855,.23],[.5834,.10],[.5890,.10],[.5914,.14],[.5953,.21],[.5994,.19],[.5988,.05],
[.4040,.08],[.4125,.08],[.4180,.10],[.4235,.18],[.4280,.08],[.4345,.14],[.4385,.06],[.4430,.08],[.4500,.08],[.4570,.07],[.4625,.22],[.4700,.06],[.4740,.12],[.4775,.06],[.4830,.10],[.4880,.08],[.4960,.08],[.5030,.08],[.5120,.08],[.5170,.08],[.5260,.10],[.5300,.08],[.5400,.08],[.5480,.08],[.5580,.08],[.5620,.22],[.5690,.08],[.5780,.10],[.5870,.18],[.5960,.06]
];

// PDM, right window
const pdmRightSpikes = [
[.4000,.947],[.4027,.946],[.4050,.948],[.4071,.951],[.4102,.928],[.4118,.901],[.4194,.958],[.4228,.951],[.4266,.935],[.4281,.938],[.4296,.944],[.4313,.942],[.4325,.942],[.4374,.935],[.4384,.933],[.4421,.928],[.4471,.933],[.4484,.924],[.4516,.954],[.4547,.945],[.4558,.934],[.4596,.924],[.4626,.919],[.4650,.940],[.4683,.942],[.4717,.935],[.4771,.947],[.4797,.924],[.4807,.933],[.4834,.941],[.4924,.940],[.4938,.939],[.4964,.938],[.4989,.921],[.5000,.70],
[.5017,.910],[.5044,.953],[.5055,.956],[.5072,.956],[.5094,.938],[.5121,.951],[.5135,.945],[.5163,.935],[.5181,.924],[.5196,.916],[.5212,.922],[.5219,.922],[.5249,.939],[.5296,.936],[.5338,.947],[.5366,.947],[.5402,.953],[.5420,.933],[.5439,.934],[.5461,.895],[.5486,.930],[.5516,.953],[.5537,.946],[.5555,.925],[.5593,.944],[.5603,.945],[.5647,.925],[.5684,.918],[.5701,.932],[.5718,.938],[.5732,.928],[.5756,.926],[.5779,.944],[.5815,.953],[.5839,.945],[.5895,.940],[.5920,.940],[.5935,.925],[.5955,.943],[.5986,.939]
];
const pdmRightLow = [.968,.968,.958,.960,.983,.980,.968,.968,.968,.965,.965,.965,.965,.965,.976,.970,.958,.979,.965,.958,.954,.970,.975,.975,.970,.962,.972,.972,.972,.972,.988,.965,.965,.965,.965,.970,.972,.968,.968,.968,.968];
const pdmRightTop = [1.006,1.006,1.005,1.006,1.006,1.005,1.006,1.006,1.005,1.006,1.006,1.005,1.006,1.006,1.005,1.006,1.005,1.006,1.006,1.005,1.006,1.006,1.005,1.006,1.005,1.006,1.006,1.005,1.006,1.006,1.005,1.006,1.006,1.005,1.006,1.006,1.005,1.006,1.006,1.005,1.006];
const pdmRightCross = [
[.4118,.937],[.4137,.951],[.4258,.953],[.4622,.958],[.4635,.953],[.4792,.962],[.4826,.965],[.4890,.963],[.4173,.972],[.4136,.972],[.4010,.992],[.4037,.983],[.4068,.989],[.4092,.978],[.4109,.985],[.4149,.999],[.4180,.992],[.4204,1.001],[.4228,.989],[.4251,.998],[.4275,.978],[.4302,.992],[.4330,.999],[.4353,.989],[.4377,1.001],[.4404,.980],[.4431,.994],[.4465,.981],[.4493,.999],[.4523,.983],[.4544,.996],[.4588,.978],[.4615,.989],[.4642,.999],[.4676,.989],[.4707,.981],[.4741,.994],[.4771,.999],[.4795,.981],[.4832,.987],[.4860,.999],[.4887,.978],[.4921,.992],[.4948,.999],[.4982,.989],[.4027,1.001],[.4058,.999],[.4082,.999],[.4112,1.001],[.4268,.989],[.4323,.987],[.4445,1.001],[.4554,.983],[.4581,.999],[.4649,.980],[.4717,1.001],[.4802,1.001],[.4853,.983],[.4914,.980],[.4961,.980],
[.5112,.969],[.5384,.967],[.5449,.970],[.5516,.963],[.5544,.967],[.5565,.976],[.5638,.981],[.5656,.970],[.5663,.962],[.5708,.951],[.5846,.972],[.5974,.971],[.5788,.983],[.5198,.978],[.5238,.981],[.5352,.980],[.5407,.983],[.5048,.987],[.4999,.987],[.5016,1.003],[.5044,.999],[.5075,.998],[.5110,.998],[.5149,1.003],[.5177,.992],[.5215,.998],[.5268,1.001],[.5299,1.001],[.5331,1.001],[.5324,.987],[.5369,.998],[.5393,.992],[.5435,.992],[.5470,.992],[.5505,.999],[.5530,.999],[.5554,.989],[.5589,.999],[.5614,1.001],[.5645,.999],[.5687,1.001],[.5680,.987],[.5718,.999],[.5718,.989],[.5757,.994],[.5781,1.001],[.5823,.992],[.5855,.996],[.5869,.987],[.5893,1.003],[.5918,1.001],[.5932,.990],[.5970,.996],[.5953,.980],[.5994,.992],[.5980,.971],
[.4015,.996],[.4050,.994],[.4125,.992],[.4160,.990],[.4215,.992],[.4240,.985],[.4290,.985],[.4340,.994],[.4390,.993],[.4420,.985],[.4450,.992],[.4505,.990],[.4575,.994],[.4630,.990],[.4660,.994],[.4695,.996],[.4735,.985],[.4780,.990],[.4815,.994],[.4845,.992],[.4900,.992],[.4935,.985],[.4990,.998],[.5025,.990],[.5090,.988],[.5140,.990],[.5250,.992],[.5290,.985],[.5350,.992],[.5420,.994],[.5490,.990],[.5600,.990],[.5690,.994],[.5740,.985],[.5800,.990],[.5840,.985],[.5900,.992],[.5960,.990]
];

// STR, right window
const strRightLowTips = [
[.4010,.0585],[.4070,.0557],[.4037,.0591],[.4116,.0578],[.4145,.0586],[.4164,.0571],[.4176,.0557],[.4207,.0574],[.4228,.0587],[.4255,.0562],[.4282,.0573],[.4336,.0593],[.4370,.0588],[.4395,.0577],[.4418,.0567],[.4443,.0548],[.4474,.0571],[.4505,.0569],[.4552,.0553],[.4574,.0585],[.4596,.0570],[.4635,.0570],[.4651,.0572],[.4669,.0583],[.4709,.0569],[.4727,.0569],[.4754,.0588],[.4796,.0569],[.4834,.0581],[.4860,.0588],[.4892,.0586],[.4931,.0595],[.4973,.0588],[.4994,.0568],[.5000,.0330],
[.5009,.0568],[.5030,.0585],[.5065,.0581],[.5086,.0588],[.5102,.0577],[.5114,.0581],[.5135,.0581],[.5150,.0588],[.5180,.0588],[.5203,.0586],[.5221,.0569],[.5236,.0582],[.5259,.0581],[.5283,.0565],[.5306,.0581],[.5345,.0590],[.5359,.0583],[.5382,.0588],[.5413,.0577],[.5444,.0581],[.5458,.0576],[.5486,.0568],[.5516,.0583],[.5544,.0588],[.5579,.0592],[.5623,.0559],[.5635,.0581],[.5656,.0583],[.5701,.0583],[.5718,.0556],[.5755,.0575],[.5781,.0587],[.5816,.0564],[.5844,.0597],[.5883,.0595],[.5914,.0572],[.5942,.0597],[.5970,.0581],[.5989,.0564],[.6001,.0568]
];
const strRightHighTips = [
[.4010,.0705],[.4054,.0709],[.4078,.0714],[.4109,.0711],[.4153,.0720],[.4217,.0716],[.4245,.0709],[.4285,.0719],[.4306,.0716],[.4316,.0724],[.4340,.0717],[.4357,.0716],[.4384,.0721],[.4417,.0722],[.4442,.0722],[.4465,.0713],[.4493,.0717],[.4540,.0709],[.4598,.0716],[.4639,.0711],[.4650,.0716],[.4683,.0712],[.4705,.0717],[.4737,.0707],[.4785,.0710],[.4817,.0712],[.4860,.0720],[.4890,.0716],[.4906,.0716],[.4941,.0716],[.4960,.0714],
[.5006,.0713],[.5051,.0712],[.5079,.0715],[.5124,.0716],[.5177,.0705],[.5206,.0714],[.5233,.0718],[.5245,.0716],[.5273,.0707],[.5321,.0711],[.5379,.0729],[.5407,.0711],[.5434,.0714],[.5463,.0707],[.5502,.0709],[.5533,.0714],[.5586,.0721],[.5617,.0708],[.5668,.0717],[.5689,.0714],[.5736,.0717],[.5758,.0719],[.5785,.0716],[.5841,.0720],[.5860,.0716],[.5907,.0714],[.5967,.0714]
];
const strRightLow = [.0610,.0609,.0608,.0608,.0609,.0608,.0608,.0609,.0609,.0610,.0609,.0609,.0609,.0609,.0610,.0610,.0608,.0609,.0609,.0610,.0603,.0609,.0611,.0611,.0610,.0610,.0609,.0610,.0610,.0609,.0610,.0610,.0611,.0609,.0609,.0611,.0611,.0611,.0611,.0611,.0605];
const strRightHigh = [.0697,.0697,.0698,.0697,.0698,.0698,.0698,.0699,.0699,.0698,.0698,.0697,.0698,.0698,.0698,.0697,.0697,.0697,.0698,.0698,.0698,.0698,.0698,.0698,.0698,.0698,.0698,.0698,.0698,.0698,.0698,.0698,.0698,.0698,.0698,.0698,.0698,.0698,.0698,.0698,.0698];
const strRightCross = [
[.4090,.0612],[.4258,.0607],[.4629,.0597],[.4781,.0610],[.4999,.0614],[.4525,.0615],[.4247,.0627],[.4302,.0625],[.4149,.0627],[.4394,.0635],[.4436,.0628],[.4479,.0627],[.4616,.0618],[.4679,.0633],[.4815,.0625],[.4972,.0625],[.4224,.0640],[.4020,.0637],[.4102,.0638],[.4527,.0644],[.4567,.0640],[.4649,.0644],[.4727,.0644],[.4754,.0627],[.4795,.0657],[.4836,.0637],[.4880,.0647],[.4917,.0642],[.4336,.0630],[.4282,.0644],[.4357,.0647],[.4411,.0654],[.4465,.0647],[.4622,.0654],[.4710,.0660],[.4737,.0664],[.4676,.0675],[.4652,.0692],[.4700,.0690],[.4598,.0702],[.4778,.0689],[.4826,.0685],[.4853,.0687],[.4897,.0682],[.4944,.0702],[.4992,.0687],[.4217,.0704],[.4143,.0695],[.4179,.0680],[.4200,.0664],[.4037,.0680],[.4014,.0660],[.4065,.0664],[.4102,.0674],[.4132,.0667],[.4160,.0662],[.4241,.0667],[.4275,.0664],[.4316,.0682],[.4357,.0692],[.4384,.0687],[.4452,.0692],[.4476,.0677],[.4431,.0665],[.4513,.0667],[.4547,.0674],[.4584,.0674],[.4499,.0654],[.4934,.0660],[.4982,.0660],
[.4999,.0614],[.5027,.0623],[.4992,.0687],[.5016,.0657],[.5048,.0677],[.5062,.0652],[.5089,.0690],[.5100,.0652],[.5124,.0672],[.5149,.0695],[.5156,.0677],[.5140,.0642],[.5177,.0665],[.5208,.0644],[.5208,.0620],[.5236,.0684],[.5236,.0662],[.5264,.0665],[.5261,.0632],[.5296,.0677],[.5289,.0637],[.5310,.0659],[.5338,.0685],[.5369,.0695],[.5345,.0660],[.5393,.0628],[.5397,.0657],[.5418,.0685],[.5449,.0610],[.5428,.0665],[.5467,.0684],[.5484,.0638],[.5491,.0628],[.5516,.0637],[.5505,.0667],[.5533,.0700],[.5530,.0674],[.5551,.0640],[.5575,.0680],[.5586,.0709],[.5596,.0662],[.5621,.0694],[.5628,.0647],[.5638,.0669],[.5671,.0682],[.5663,.0652],[.5680,.0664],[.5708,.0637],[.5718,.0657],[.5745,.0689],[.5771,.0687],[.5771,.0636],[.5788,.0657],[.5816,.0685],[.5841,.0662],[.5855,.0695],[.5862,.0667],[.5883,.0697],[.5904,.0692],[.5893,.0642],[.5914,.0657],[.5932,.0637],[.5942,.0674],[.5961,.0665],[.5971,.0692],[.5980,.0625],[.5991,.0610],
[.4005,.0650],[.4045,.0660],[.4085,.0655],[.4125,.0650],[.4170,.0650],[.4215,.0660],[.4260,.0650],[.4300,.0662],[.4330,.0655],[.4370,.0665],[.4405,.0660],[.4450,.0665],[.4490,.0665],[.4540,.0655],[.4575,.0660],[.4615,.0665],[.4660,.0650],[.4690,.0660],[.4750,.0665],[.4810,.0665],[.4860,.0660],[.4900,.0665],[.4950,.0650],
[.5040,.0660],[.5080,.0650],[.5130,.0655],[.5190,.0655],[.5250,.0650],[.5280,.0660],[.5325,.0650],[.5375,.0660],[.5410,.0645],[.5460,.0655],[.5525,.0655],[.5565,.0650],[.5610,.0660],[.5655,.0665],[.5700,.0655],[.5735,.0665],[.5790,.0672],[.5830,.0650],[.5880,.0660],[.5950,.0650]
];

const svg = d3.select('#chart');
const RED = '#e62a08', YELLOW = '#d6e600', CYAN = '#00ccff', BLUE = '#0505e0';

// the plus symbol, as one thing so that later ones sit over earlier ones
const plus = svg.append('defs').append('g').attr('id', 'plus');
plus.append('path').attr('d', 'M-12 0H12M0 -12V12').attr('stroke', CYAN).attr('stroke-width', 11).attr('fill', 'none');
plus.append('path').attr('d', 'M-14 0H14M0 -14V14').attr('stroke', BLUE).attr('stroke-width', 7).attr('fill', 'none');

let clip_count = 0;
function addClip(x0, y0, x1, y1) {
	const id = `clip-${clip_count++}`;
	svg.select('defs').append('clipPath').attr('id', id)
		.append('rect').attr('x', x0).attr('y', y0).attr('width', x1 - x0).attr('height', y1 - y0);
	return `url(#${id})`;
}

function addText(str, x, y, size, anchor, spanWidth, rotate) {
	const t = svg.append('text')
		.attr('font-size', size)
		.attr('text-anchor', anchor || 'middle')
		.text(str);
	if(rotate) {
		t.attr('transform', `translate(${x} ${y}) rotate(${rotate})`);
	} else {
		t.attr('x', x).attr('y', y);
	}
	if(spanWidth) {
		t.attr('textLength', spanWidth).attr('lengthAdjust', 'spacing');
	}
	return t;
}

// inner ticks on two opposite sides, long ones carry the labels
function frame(box, x, y, opt) {
	const w = box.x1 - box.x0, h = box.y1 - box.y0;
	const g = svg.append('g');
	const put = (gen, dx, dy) => {
		const a = g.append('g').attr('transform', `translate(${dx},${dy})`).call(gen);
		a.select('.domain').remove();
		return a;
	};
	const xt = opt.xMajor, yt = opt.yMajor;
	put(d3.axisBottom(x).tickValues(opt.xMinor).tickSize(-opt.xShort).tickFormat(''), 0, box.y1);
	put(d3.axisTop(x).tickValues(opt.xMinor).tickSize(-opt.xShort).tickFormat(''), 0, box.y0);
	put(d3.axisBottom(x).tickValues(xt).tickSize(-opt.xLong).tickFormat(''), 0, box.y1);
	put(d3.axisTop(x).tickValues(xt).tickSize(-opt.xLong).tickFormat(''), 0, box.y0);
	put(d3.axisLeft(y).tickValues(opt.yMinor).tickSize(-opt.yShort).tickFormat(''), box.x0, 0);
	put(d3.axisRight(y).tickValues(opt.yMinor).tickSize(-opt.yShort).tickFormat(''), box.x1, 0);
	put(d3.axisRight(y).tickValues(yt).tickSize(-opt.yLong).tickFormat(''), box.x1, 0);
	const left = put(d3.axisLeft(y).tickValues(yt).tickSize(-opt.yLong).tickPadding(opt.yPad).tickFormat(opt.yFormat), box.x0, 0);
	left.attr('font-family', null).attr('font-size', null).selectAll('text')
		.attr('class', 'num').attr('font-size', 86).attr('dy', '0.42em');
	g.append('rect').attr('x', box.x0).attr('y', box.y0).attr('width', w).attr('height', h)
		.attr('fill', 'none').attr('stroke', '#000').attr('stroke-width', 3.5);
}

// light curve
(function() {
	const box = {x0: 419, x1: 3727, y0: 160, y1: 1469};
	const x = d3.scaleLinear().domain([0, 2]).range([box.x0, box.x1]);
	const y = d3.scaleLinear().domain([16.867, 18.163]).range([box.y0, box.y1]);
	const points = lightCurve.concat(lightCurve.map((p) => [p[0] + 1, p[1], p[2]]));
	const clip = addClip(box.x0, box.y0, box.x1, box.y1);

	const bars = svg.append('g').attr('clip-path', clip).attr('stroke', RED).attr('fill', 'none');
	bars.selectAll('path').data(points).join('path')
		.attr('stroke-width', 6)
		.attr('d', (p) => {
			const cx = x(p[0]), lo = y(p[1] - p[2]), hi = y(p[1] + p[2]);
			return `M${cx} ${lo}V${hi}M${cx - 33} ${lo}H${cx + 33}M${cx - 33} ${hi}H${cx + 33}`;
		});
	svg.append('g').selectAll('rect').data(points).join('rect')
		.attr('x', (p) => x(p[0]) - 11)
		.attr('y', (p) => y(p[1]) - 11)
		.attr('width', 22).attr('height', 22).attr('rx', 2)
		.attr('fill', '#000');

	frame(box, x, y, {
		xMajor: phaseTicks, xMinor: d3.range(0, 2.01, 0.1), xLong: 26, xShort: 13,
		yMajor: magTicks, yMinor: d3.range(16.9, 18.16, 0.05), yLong: 67, yShort: 32,
		yPad: 22, yFormat: d3.format('.1f')
	});
	phaseTicks.forEach((t) => addText(d3.format('.1f')(t), x(t), 1596, 86).attr('class', 'num'));
})();

function periodPanel(cfg) {
	const box = cfg.box;
	const x = d3.scaleLinear().domain(cfg.xDomain).range([box.x0, box.x1]);
	const y = d3.scaleLinear().domain(cfg.yDomain).range([box.y1, box.y0]);
	const inside = addClip(box.x0, box.y0, box.x1, box.y1);
	const plot = svg.append('g').attr('clip-path', inside);

	plot.append('rect')
		.attr('x', x(cfg.centre) - 12).attr('y', box.y0)
		.attr('width', 24).attr('height', box.y1 - box.y0)
		.attr('fill', YELLOW);

	// solid part of the periodogram, then the spikes out of it
	cfg.masses.forEach((m) => {
		plot.append('path')
			.attr('fill', '#000')
			.attr('d', d3.area()
				.x((d, i) => x(m.grid[i]))
				.y0(y(m.base))
				.y1((d) => y(d))(m.values));
	});
	cfg.spikes.forEach((s) => {
		plot.append('g').attr('fill', '#000')
			.selectAll('path').data(s.values).join('path')
			.attr('d', (p) => {
				const cx = x(p[0]), tip = y(p[1]), foot = y(s.base);
				return `M${cx - 8} ${foot}L${cx - 3} ${tip}H${cx + 3}L${cx + 8} ${foot}Z`;
			});
	});

	svg.append('g').attr('clip-path', addClip(box.x0 - 6, box.y0 - 4, box.x1 + 6, box.y1 + 5))
		.selectAll('use').data(cfg.cross).join('use')
		.attr('href', '#plus')
		.attr('x', (p) => x(p[0]))
		.attr('y', (p) => y(p[1]));

	frame(box, x, y, {
		xMajor: cfg.xMajor, xMinor: d3.range(cfg.xDomain[0], cfg.xDomain[1] + 0.001, 0.01), xLong: 9, xShort: 4,
		yMajor: cfg.yMajor, yMinor: cfg.yMinor, yLong: 28, yShort: 14,
		yPad: 22, yFormat: cfg.yFormat
	});
	const tag = addText(cfg.tag, box.x0 + 77, cfg.tagY, 48, 'start', cfg.tagWidth);
	tag.attr('class', 'tag').attr('lengthAdjust', 'spacingAndGlyphs');
}

const leftX = {x0: 419, x1: 1943}, rightX = {x0: 2360, x1: 3674};
const rowLsg = {y0: 1738, y1: 2219}, rowPdm = {y0: 2237, y1: 2635}, rowStr = {y0: 2653, y1: 3050};
const panelBox = (c, r) => Object.assign({}, c, r);
const fmt1 = d3.format('.1f');

periodPanel({
	box: panelBox(leftX, rowLsg), xDomain: [0.9, 1.1], centre: 1, xMajor: [0.9, 1, 1.1],
	yDomain: [0, 2.075], yMajor: [0.5, 1, 1.5, 2], yMinor: d3.range(0.1, 2.05, 0.1), yFormat: fmt1,
	masses: [{grid: leftGrid, values: lsgLeftMass, base: 0}],
	spikes: [{values: lsgLeftSpikes, base: 0}],
	cross: lsgLeftCross, tag: 'LSG', tagY: 1791, tagWidth: 77
});
periodPanel({
	box: panelBox(leftX, rowPdm), xDomain: [0.9, 1.1], centre: 1, xMajor: [0.9, 1, 1.1],
	yDomain: [0.624, 1.023], yMajor: [1], yMinor: [], yFormat: d3.format('d'),
	masses: [{grid: leftGrid, values: pdmLeftLow, base: 0.95}, {grid: leftGrid, values: pdmLeftTop, base: 0.95}],
	spikes: [{values: pdmLeftSpikes, base: 0.95}, {values: pdmLeftTips, base: 0.95}],
	cross: pdmLeftCross, tag: 'PDM', tagY: 2618, tagWidth: 87
});
periodPanel({
	box: panelBox(leftX, rowStr), xDomain: [0.9, 1.1], centre: 1, xMajor: [0.9, 1, 1.1],
	yDomain: [0.0334, 0.0731], yMajor: [0.04], yMinor: [], yFormat: d3.format('.2f'),
	masses: [{grid: leftGrid, values: strLeftLow, base: 0.065}, {grid: leftGrid, values: strLeftHigh, base: 0.065}],
	spikes: [{values: strLeftLowTips, base: 0.065}, {values: strLeftHighTips, base: 0.065}],
	cross: strLeftCross, tag: 'STR', tagY: 3032, tagWidth: 77
});

periodPanel({
	box: panelBox(rightX, rowLsg), xDomain: [0.4, 0.6], centre: 0.5, xMajor: [0.4, 0.5, 0.6],
	yDomain: [0, 3.8], yMajor: [1, 2, 3], yMinor: d3.range(0.1, 3.75, 0.1), yFormat: d3.format('d'),
	masses: [{grid: rightGrid, values: lsgRightMass, base: 0}],
	spikes: [{values: lsgRightSpikes, base: 0}],
	cross: lsgRightCross, tag: 'LSG', tagY: 1791, tagWidth: 77
});
periodPanel({
	box: panelBox(rightX, rowPdm), xDomain: [0.4, 0.6], centre: 0.5, xMajor: [0.4, 0.5, 0.6],
	yDomain: [0.76, 1.009], yMajor: [0.8, 1], yMinor: [0.85, 0.9, 0.95], yFormat: fmt1,
	masses: [{grid: rightGrid, values: pdmRightLow, base: 0.98}, {grid: rightGrid, values: pdmRightTop, base: 0.98}],
	spikes: [{values: pdmRightSpikes, base: 0.98}],
	cross: pdmRightCross, tag: 'PDM', tagY: 2618, tagWidth: 87
});
periodPanel({
	box: panelBox(rightX, rowStr), xDomain: [0.4, 0.6], centre: 0.5, xMajor: [0.4, 0.5, 0.6],
	yDomain: [0.0334, 0.0731], yMajor: [0.04], yMinor: [], yFormat: d3.format('.2f'),
	masses: [{grid: rightGrid, values: strRightLow, base: 0.065}, {grid: rightGrid, values: strRightHigh, base: 0.065}],
	spikes: [{values: strRightLowTips, base: 0.065}, {values: strRightHighTips, base: 0.065}],
	cross: strRightCross, tag: 'STR', tagY: 3032, tagWidth: 77
});

// titles and the labels under the axes
addText('CSS_J080549.5+403108', 655, 113, 108, 'start', 1341);
addText('P = 0.66901017(days)', 2227, 113, 108, 'start', 1257);
addText('Phase', 2070, 1709, 88, 'middle', 255);
addText('V', 118, 818, 86, 'middle', null, -90);
addText('Power', 112, 2504, 100, 'middle', 290, -90);
addText('Power', 2093, 2504, 100, 'middle', 290, -90);
[[ '0.9', 419 ], [ '1.0', 1181 ], [ '1.1', 1943 ], [ '0.4', 2360 ], [ '0.5', 3017 ], [ '0.6', 3674 ]]
	.forEach((d) => addText(d[0], d[1], 3178, 86).attr('class', 'num'));
addText('Period/P', 1180, 3286, 92, 'middle', 380);
addText('Period/P', 3014, 3286, 92, 'middle', 380);
</script>
</body>
</html>
